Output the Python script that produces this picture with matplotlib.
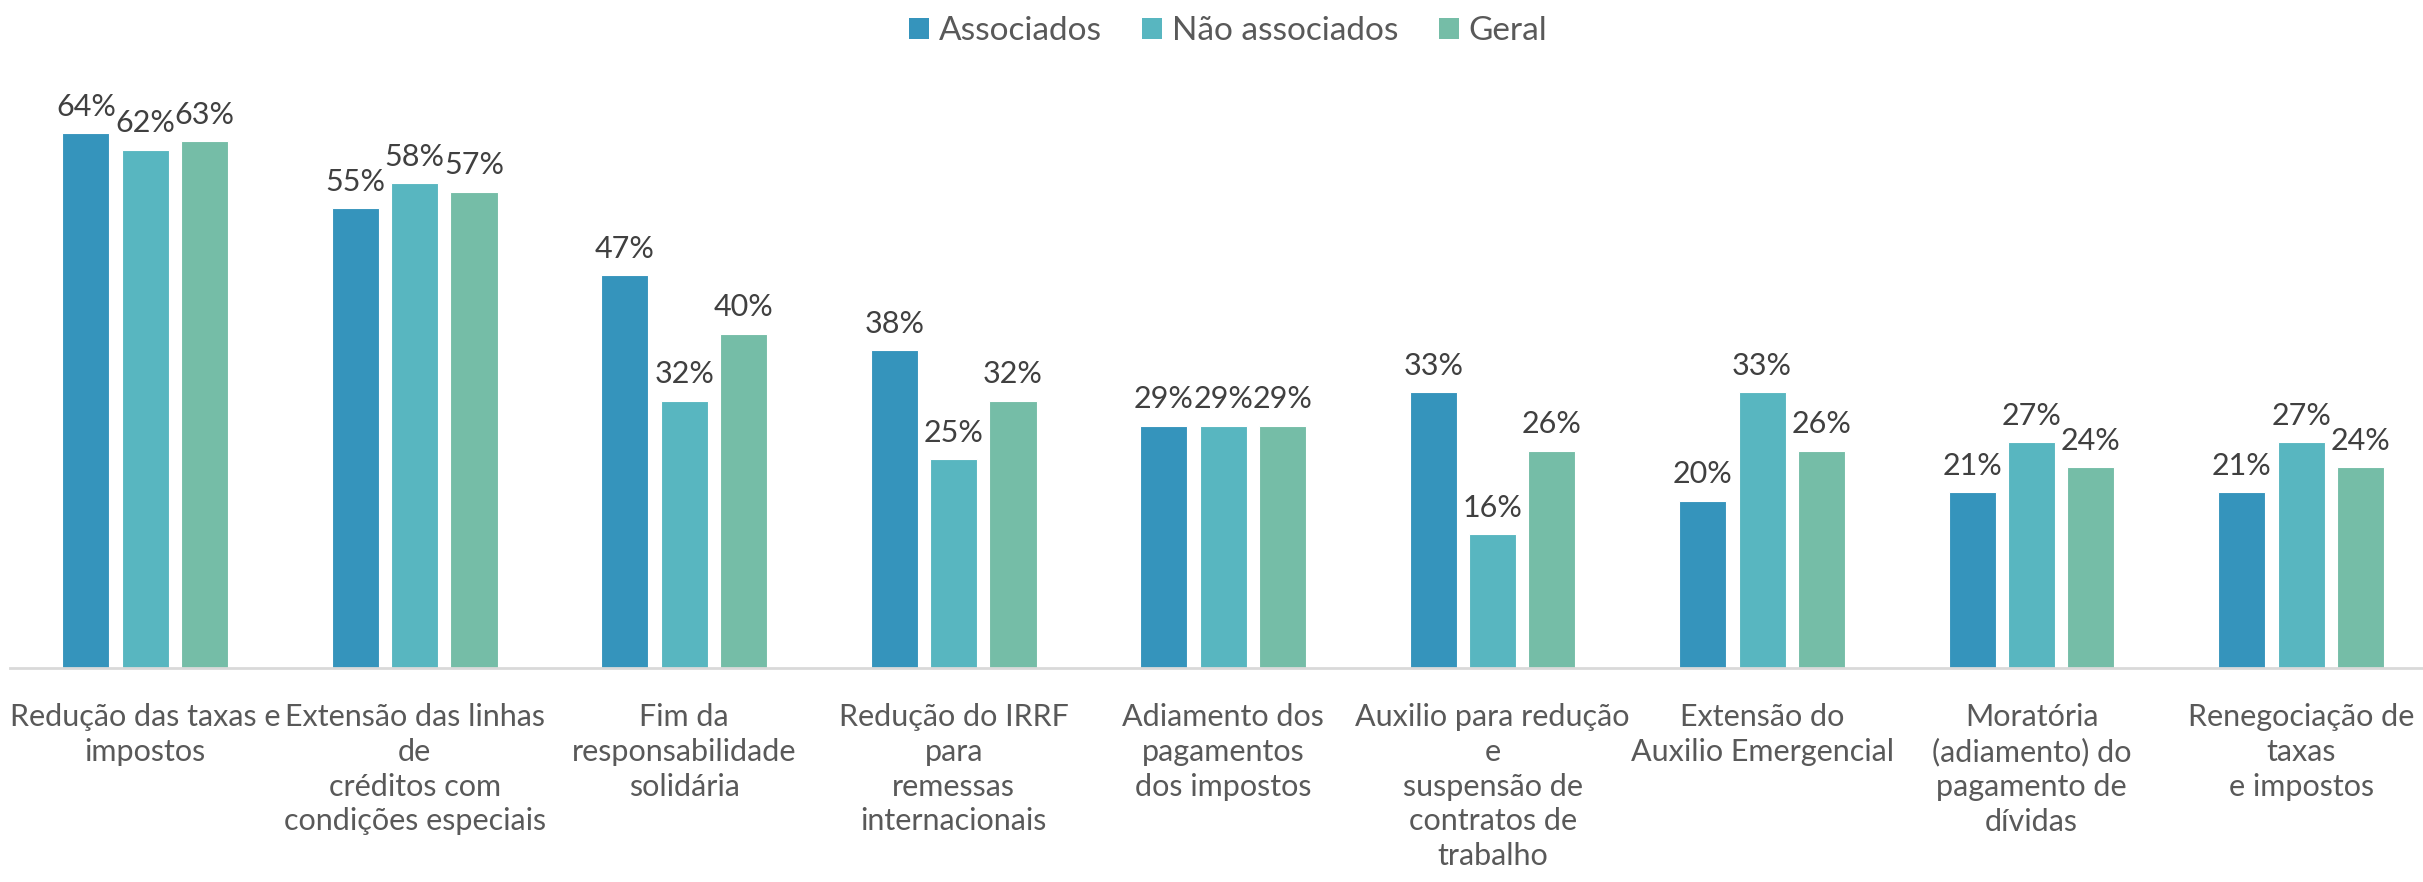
import matplotlib
matplotlib.use('Agg')
from matplotlib import pyplot as plt
from matplotlib.patches import Patch
import numpy as np

categories = [
    'Redução das taxas e\nimpostos',
    'Extensão das linhas\nde\ncréditos com\ncondições especiais',
    'Fim da\nresponsabilidade\nsolidária',
    'Redução do IRRF\npara\nremessas\ninternacionais',
    'Adiamento dos\npagamentos\ndos impostos',
    'Auxilio para redução\ne\nsuspensão de\ncontratos de\ntrabalho',
    'Extensão do\nAuxilio Emergencial',
    'Moratória\n(adiamento) do\npagamento de\ndívidas',
    'Renegociação de\ntaxas\ne impostos',
]
series_names = ['Associados', 'Não associados', 'Geral']
associados = [64, 55, 47, 38, 29, 33, 20, 21, 21]
nao_associados = [62, 58, 32, 25, 29, 16, 33, 27, 27]
geral = [63, 57, 40, 32, 29, 26, 26, 24, 24]

colors = ['#3594BC', '#58B6C0', '#75BDA7']
text_color = '#404040'

plt.rcParams['font.family'] = ['Lato', 'DejaVu Sans']

fig = plt.figure(figsize=(24.23, 8.82), dpi=100)
ax = fig.add_axes([0.0043, 0.2426, 1.001, 0.6634])

x = np.arange(len(categories))
w = 0.175
step = 0.22
for i, (vals, c) in enumerate(zip([associados, nao_associados, geral], colors)):
    bars = ax.bar(x + (i - 1) * step, vals, width=w, color=c,
                  edgecolor='white', linewidth=0.8)
    for b, v in zip(bars, vals):
        ax.annotate(f'{v}%', (b.get_x() + b.get_width() / 2, v),
                    xytext=(0, 9), textcoords='offset points',
                    ha='center', va='bottom', fontsize=22, color=text_color)

ax.set_xlim(-0.5, len(categories) - 0.5)
ax.set_ylim(0, 70)
ax.set_yticks([])
ax.set_xticks(x)
ax.set_xticklabels(categories, fontsize=22, color='#595959', linespacing=1.3)
ax.tick_params(axis='x', length=0, pad=25)
for s in ['top', 'right', 'left']:
    ax.spines[s].set_visible(False)
ax.spines['bottom'].set_color('#D9D9D9')
ax.spines['bottom'].set_linewidth(2)

handles = [Patch(facecolor=c, label=n) for c, n in zip(colors, series_names)]
fig.legend(handles=handles, loc='center', bbox_to_anchor=(0.507, 0.965), ncol=3,
           frameon=False, fontsize=24, handlelength=0.6, handleheight=0.6,
           handletextpad=0.3, columnspacing=1.2, labelcolor='#595959')

fig.savefig('out.png', dpi=100)
